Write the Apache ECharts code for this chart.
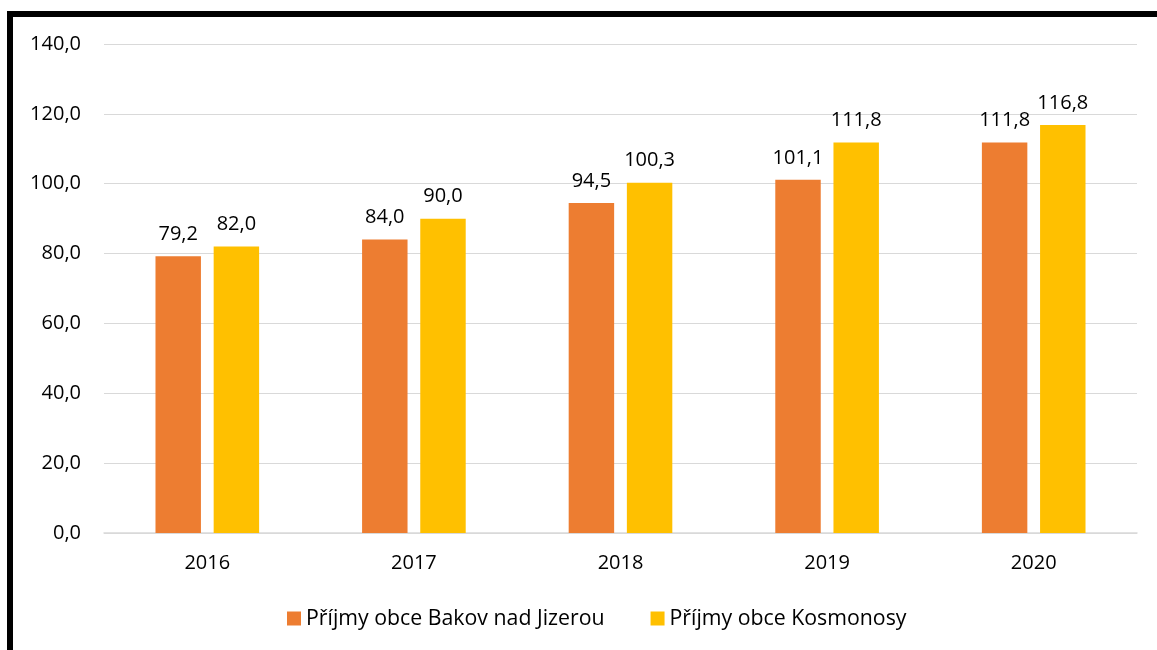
<!DOCTYPE html>
<html>
<head>
<meta charset="utf-8">
<script src="https://cdn.jsdelivr.net/npm/echarts@6/dist/echarts.min.js"></script>
<style>
html,body{margin:0;padding:0;background:#fff;}
#chart{width:1157px;height:650px;}
</style>
</head>
<body>
<div id="chart"></div>
<script>
const categories = ['2016', '2017', '2018', '2019', '2020'];
const seriesNames = ['Příjmy obce Bakov nad Jizerou', 'Příjmy obce Kosmonosy'];
const bakov = [79.2, 84.0, 94.5, 101.1, 111.8];
const kosmonosy = [82.0, 90.0, 100.3, 111.8, 116.8];
const colors = ['#ED7D31', '#FFC000'];

const fmt = v => v.toFixed(1).replace('.', ',');
const font = '"Open Sans", "Noto Sans", sans-serif';

const chart = echarts.init(document.getElementById('chart'), null, {renderer: 'canvas'});
chart.setOption({
  animation: false,
  textStyle: {fontFamily: font},
  graphic: [
    {type: 'rect', shape: {x: 7, y: 11, width: 6, height: 639}, style: {fill: '#000'}},
    {type: 'rect', shape: {x: 7, y: 11, width: 1150, height: 6}, style: {fill: '#000'}}
  ],
  grid: {left: 104, right: 20, top: 44, bottom: 117, containLabel: false},
  legend: {
    top: 603,
    left: 282,
    itemWidth: 14,
    itemHeight: 14,
    itemGap: 46,
    icon: 'rect',
    textStyle: {fontSize: 21.3, color: '#000', fontFamily: font},
    data: seriesNames
  },
  xAxis: {
    type: 'category',
    data: categories,
    axisLine: {show: true, lineStyle: {color: '#D9D9D9', width: 1.5}},
    axisTick: {show: false},
    axisLabel: {fontSize: 20, color: '#000', margin: 20}
  },
  yAxis: {
    type: 'value',
    min: 0,
    max: 140,
    interval: 20,
    axisLine: {show: false},
    axisTick: {show: false},
    splitLine: {lineStyle: {color: '#D9D9D9', width: 1.2}},
    axisLabel: {fontSize: 20, color: '#000', margin: 23, formatter: fmt}
  },
  series: [
    {
      name: seriesNames[0], type: 'bar', data: bakov,
      barWidth: '22%', barGap: '28%',
      itemStyle: {color: colors[0]},
      label: {show: true, position: 'top', distance: 12, fontSize: 20, color: '#000', formatter: p => fmt(p.value)}
    },
    {
      name: seriesNames[1], type: 'bar', data: kosmonosy,
      barWidth: '22%',
      itemStyle: {color: colors[1]},
      label: {show: true, position: 'top', distance: 12, fontSize: 20, color: '#000', formatter: p => fmt(p.value)}
    }
  ]
});
</script>
</body>
</html>
